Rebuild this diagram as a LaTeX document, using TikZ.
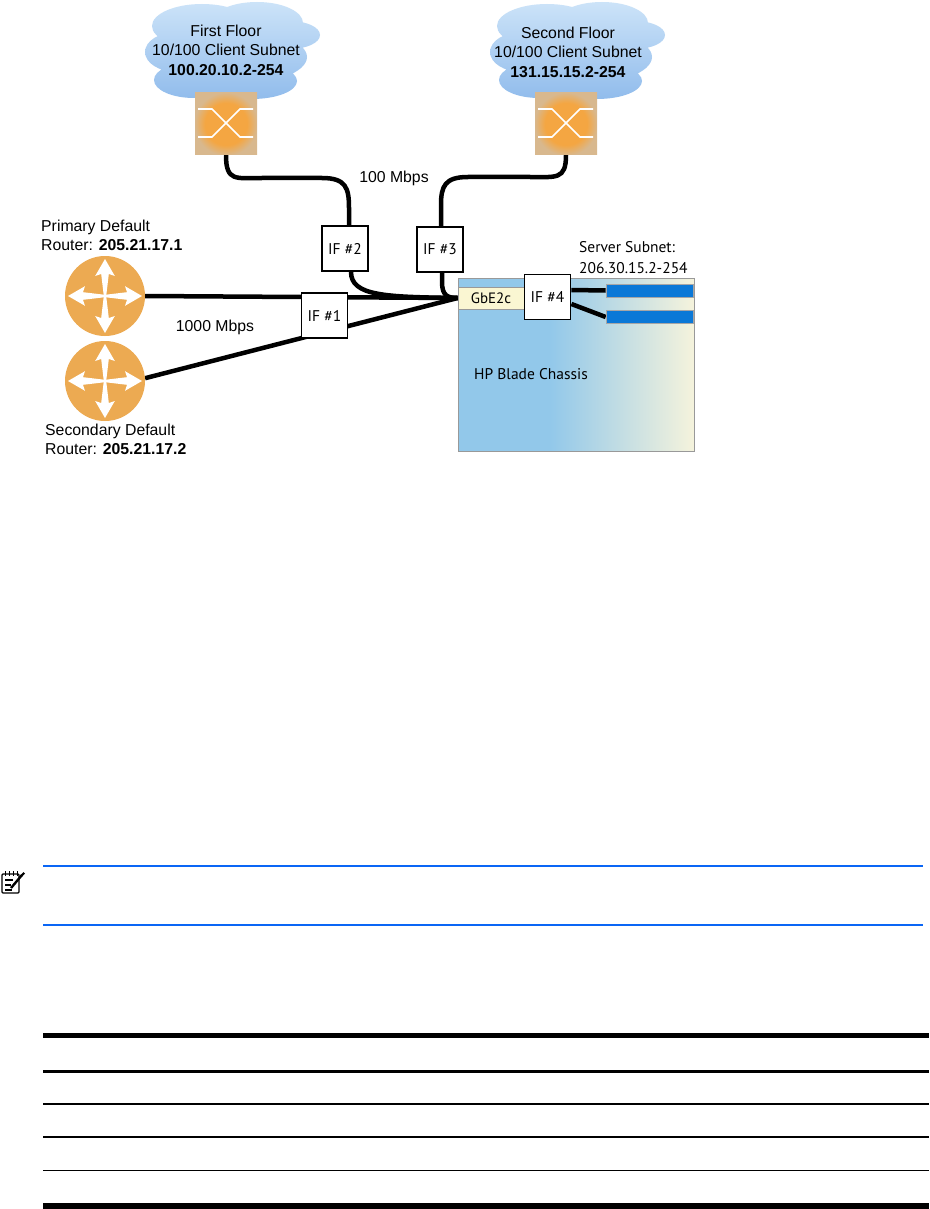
\documentclass[tikz,border=0pt]{standalone}
\usepackage{fontspec}
\setmainfont{Liberation Sans}
\newfontfamily\myriad{PT Sans}
\usetikzlibrary{calc}
\definecolor{routerc}{RGB}{236,170,82}
\definecolor{swin}{RGB}{244,166,66}
\definecolor{swout}{RGB}{216,184,142}
\definecolor{cloudtop}{RGB}{204,227,248}
\definecolor{cloudbot}{RGB}{145,188,236}
\definecolor{chblue}{RGB}{146,200,234}
\definecolor{chcream}{RGB}{245,243,220}
\definecolor{gbec}{RGB}{250,246,210}
\definecolor{barc}{RGB}{10,120,215}
\definecolor{noteblue}{RGB}{10,102,245}
\pgfdeclareradialshading{swshade}{\pgfpoint{0bp}{0bp}}{color(0bp)=(swin); color(17bp)=(swin); color(25.5bp)=(swout); color(50bp)=(swout)}
\pgfdeclarelayer{bg}
\pgfdeclarelayer{cab}
\pgfsetlayers{bg,cab,main}
\begin{document}
\begin{tikzpicture}[x=1pt,y=-1pt,
  lbl/.style={inner sep=0pt, font=\fontsize{15.8}{19.5}\selectfont},
  mlbl/.style={inner sep=0pt, font=\myriad\fontsize{15.5}{18}\selectfont},
  cable/.style={line width=4.5pt, black},
  ifbox/.style={draw, fill=white, line width=1.8pt, minimum width=46pt, minimum height=45pt, inner sep=0pt, font=\myriad\fontsize{15.5}{18}\selectfont},
  switchbox/.style={rectangle, minimum size=62pt, inner sep=0pt, shading=swshade},
  router/.style={circle, fill=routerc, minimum size=80pt, inner sep=0pt},
  serverbar/.style={rectangle, draw=gray!70, line width=0.6pt, fill=barc, minimum width=87pt, minimum height=13pt, inner sep=0pt},
  cloudpic/.pic={
    \shade[top color=cloudtop, bottom color=cloudbot]
      (-30,-26) ellipse [x radius=50pt, y radius=22pt]
      (25,-29) ellipse [x radius=46pt, y radius=21pt]
      (58,-17) ellipse [x radius=30pt, y radius=14pt]
      (-55,0) ellipse [x radius=32pt, y radius=20pt]
      (0,5) ellipse [x radius=75pt, y radius=28pt]
      (-38,28) ellipse [x radius=40pt, y radius=18pt]
      (20,29) ellipse [x radius=45pt, y radius=18pt];
  }
]
\useasboundingbox (0,0) rectangle (929,1209);
\begin{pgfonlayer}{bg}
\fill[white] (0,0) rectangle (929,1209);
% clouds
\pic at (232,52) {cloudpic};
\pic at (577,52) {cloudpic};
% chassis body
\fill[chblue] (458,278) rectangle (550,451);
\shade[left color=chblue, right color=chcream] (550,278) rectangle (694,451);
\end{pgfonlayer}

\node[lbl, align=center] (c1) at (226,50) {First Floor\\10/100 Client Subnet\\\textbf{100.20.10.2-254}};
\node[lbl, align=center] (c2) at (568,52) {Second Floor\\10/100 Client Subnet\\\textbf{131.15.15.2-254}};

% switches
\node[switchbox] (sw1) at (226,124) {};
\node[switchbox] (sw2) at (566,124) {};
\foreach \s in {sw1,sw2}{
  \begin{scope}[shift={(\s.center)}]
    \draw[white, line width=1.6pt] (-28,-15) -- (-14,-15) -- (14,13) -- (27,13);
    \draw[white, line width=1.6pt] (-28,13) -- (-14,13) -- (14,-15) -- (27,-15);
  \end{scope}
}

% routers
\node[router] (r1) at (105,296) {};
\node[router] (r2) at (105,381) {};
\foreach \r in {r1,r2}{
  \foreach \a in {0,90,180,270}{
    \fill[white, shift={(\r.center)}, rotate=\a]
      (0,-1.2) -- (22,-3.8) -- (20,-9.8) -- (37,0) -- (20,9.8) -- (22,3.8) -- (0,1.2) -- cycle;
  }
}
\node[lbl, anchor=west] (p1) at (41,227) {Primary Default};
\node[lbl, anchor=west] (p2) at (41,245) {Router: \textbf{205.21.17.1}};
\node[lbl, anchor=west] (s1) at (45,431) {Secondary Default};
\node[lbl, anchor=west] (s2) at (45,449) {Router: \textbf{205.21.17.2}};
\node[lbl] (m1000) at (215,327) {1000 Mbps};
\node[lbl] (m100) at (394,178) {100 Mbps};

% chassis
\node[draw=gray!80, line width=0.8pt, minimum width=236pt, minimum height=173pt, inner sep=0pt] (chassis) at (576,364.5) {};
\node[draw=gray!80, line width=0.8pt, fill=gbec, minimum width=66pt, minimum height=22pt, inner sep=0pt, font=\myriad\fontsize{15}{17}\selectfont] (gbe) at (491,298) {GbE2c};
\coordinate (hub) at (gbe.west);
\node[mlbl, anchor=west] (hp) at (474,374) {HP Blade Chassis};
\node[mlbl, anchor=west] (ss1) at (579,247) {Server Subnet:};
\node[mlbl, anchor=west] (ss2) at (579,268) {206.30.15.2-254};

% IF boxes
\node[ifbox] (if1) at (324.5,315.5) {IF \#1};
\node[ifbox] (if2) at (345,248.5) {IF \#2};
\node[ifbox] (if3) at (440,249.5) {IF \#3};
\node[ifbox] (if4) at (547.5,297) {IF \#4};
\node[serverbar] (srv1) at (649.5,290.5) {};
\node[serverbar] (srv2) at (649.5,317) {};

% cables
\begin{pgfonlayer}{cab}
\draw[cable] (sw1.south) .. controls (226,182) and (236,178) .. (262,178) -- (322,178)
  .. controls (346,178) and (349,188) .. (349,208) -- ([xshift=4pt]if2.north);
\draw[cable] (sw2.south) .. controls (566,180) and (556,177) .. (530,177) -- (468,177)
  .. controls (445,177) and (441,186) .. (441,205) -- ([xshift=1pt]if3.north);
\draw[cable] ([xshift=6pt]if2.south) .. controls (351,296) and (385,297) .. (hub);
\draw[cable] ([xshift=2pt]if3.south) -- (442,282) .. controls (442,296) and (448,298) .. (hub);
\draw[cable] (r1.east) -- (hub);
\draw[cable] (r2.4) -- (hub);
\draw[cable] ([yshift=7pt]if4.east) -- (srv1.west);
\draw[cable] ([yshift=-7pt]if4.east) -- (srv2.west);
\end{pgfonlayer}

% note icon
\draw[line width=1.3pt, rounded corners=1pt, fill=white] (2,874) rectangle (19,893);
\foreach \x in {5,9,13,17} \draw[line width=1pt] (\x,871) -- (\x,876);
\draw[line width=1.1pt] (5,880) -- (13,880) (5,885) -- (11,885) (5,890) -- (12,890);
\draw[line width=2.4pt] (11,888) -- (22,875);
\fill (23.5,872) -- (25,873.5) -- (22,876.5) -- (20.5,875) -- cycle;
\draw[noteblue, line width=1.8pt] (43,866) -- (923,866);
\draw[noteblue, line width=1.8pt] (43,925) -- (923,925);

% table rules
\fill (43,1033) rectangle (929,1038);
\fill (43,1070) rectangle (929,1073);
\fill (43,1103.4) rectangle (929,1104.8);
\fill (43,1136.4) rectangle (929,1137.8);
\fill (43,1169.6) rectangle (929,1171);
\fill (43,1203) rectangle (929,1209);
\end{tikzpicture}
\end{document}
